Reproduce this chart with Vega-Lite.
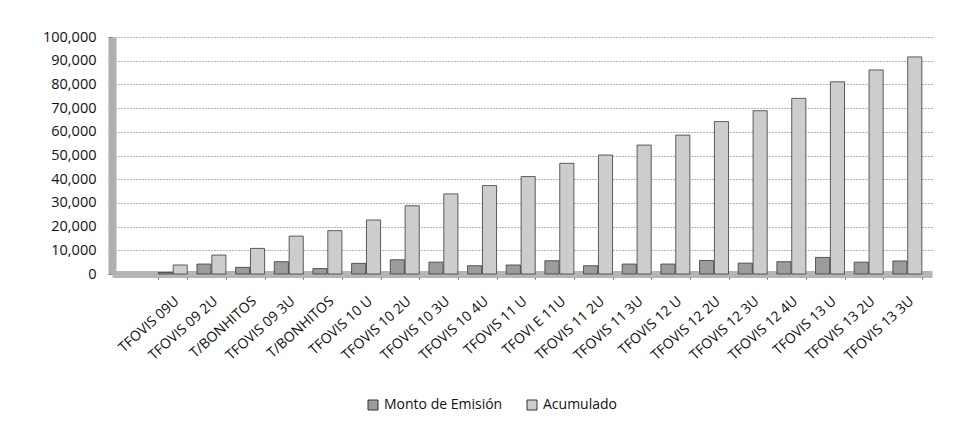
{
  "$schema": "https://vega.github.io/schema/vega-lite/v6.json",
  "autosize": "none",
  "width": 820,
  "height": 237,
  "padding": {"left": 112, "top": 37, "right": 34, "bottom": 154},
  "background": "white",
  "data": {
    "values": [
      {"cat": "TFOVIS 09U", "Monto de Emisión": 600, "Acumulado": 3800},
      {"cat": "TFOVIS 09 2U", "Monto de Emisión": 4200, "Acumulado": 8000},
      {"cat": "T/BONHITOS", "Monto de Emisión": 2800, "Acumulado": 10800},
      {"cat": "TFOVIS 09 3U", "Monto de Emisión": 5200, "Acumulado": 16000},
      {"cat": " T/BONHITOS", "Monto de Emisión": 2300, "Acumulado": 18300},
      {"cat": "TFOVIS  10 U", "Monto de Emisión": 4500, "Acumulado": 22800},
      {"cat": "TFOVIS 10 2U", "Monto de Emisión": 6000, "Acumulado": 28800},
      {"cat": "TFOVIS 10 3U", "Monto de Emisión": 5000, "Acumulado": 33800},
      {"cat": "TFOVIS 10 4U", "Monto de Emisión": 3500, "Acumulado": 37300},
      {"cat": "TFOVIS 11 U", "Monto de Emisión": 3800, "Acumulado": 41100},
      {"cat": "TFOVI E 11U", "Monto de Emisión": 5600, "Acumulado": 46700},
      {"cat": "TFOVIS  11 2U", "Monto de Emisión": 3500, "Acumulado": 50200},
      {"cat": "TFOVIS 11 3U", "Monto de Emisión": 4200, "Acumulado": 54400},
      {"cat": "TFOVIS 12 U", "Monto de Emisión": 4200, "Acumulado": 58600},
      {"cat": "TFOVIS 12 2U", "Monto de Emisión": 5700, "Acumulado": 64300},
      {"cat": "TFOVIS 12 3U", "Monto de Emisión": 4600, "Acumulado": 68900},
      {"cat": "TFOVIS 12 4U", "Monto de Emisión": 5200, "Acumulado": 74100},
      {"cat": "TFOVIS 13 U", "Monto de Emisión": 7000, "Acumulado": 81100},
      {"cat": "TFOVIS 13 2U", "Monto de Emisión": 5000, "Acumulado": 86100},
      {"cat": "TFOVIS 13 3U", "Monto de Emisión": 5500, "Acumulado": 91600}
    ]
  },
  "transform": [
    {"fold": ["Monto de Emisión", "Acumulado"], "as": ["serie", "valor"]}
  ],
  "mark": {"type": "bar", "stroke": "#3a3a3a", "strokeWidth": 0.8},
  "encoding": {
    "x": {
      "field": "cat",
      "type": "nominal",
      "sort": null,
      "scale": {"paddingInner": 0.25, "paddingOuter": 0.73, "align": 0.82},
      "axis": {
        "title": null,
        "labelAngle": -42,
        "labelAlign": "right",
        "labelBaseline": "middle",
        "labelPadding": 20,
        "labelOffset": 4,
        "labelFont": "Open Sans",
        "labelFontSize": 14,
        "labelColor": "#111",
        "tickBand": "extent",
        "tickSize": 5,
        "tickColor": "#555",
        "domainColor": "#b5b5b5",
        "domainWidth": 7,
        "grid": false
      }
    },
    "xOffset": {
      "field": "serie",
      "type": "nominal",
      "sort": ["Monto de Emisión", "Acumulado"],
      "scale": {"paddingInner": 0.05}
    },
    "y": {
      "field": "valor",
      "type": "quantitative",
      "scale": {"domain": [0, 100000], "nice": false},
      "axis": {
        "title": null,
        "values": [0, 10000, 20000, 30000, 40000, 50000, 60000, 70000, 80000, 90000, 100000],
        "format": ",d",
        "labelFont": "Open Sans",
        "labelFontSize": 14.5,
        "labelColor": "#111",
        "labelPadding": 12,
        "tickSize": 4,
        "tickColor": "#666",
        "domainColor": "#b0b0b0",
        "domainWidth": 8,
        "grid": true,
        "gridColor": "#666",
        "gridDash": [1, 2],
        "gridWidth": 1
      }
    },
    "color": {
      "field": "serie",
      "type": "nominal",
      "scale": {"domain": ["Monto de Emisión", "Acumulado"], "range": ["#9c9c9c", "#cdcdcd"]},
      "legend": {
        "orient": "none",
        "legendX": 254,
        "legendY": 361,
        "direction": "horizontal",
        "title": null,
        "symbolType": "square",
        "symbolSize": 100,
        "symbolStrokeColor": "#333",
        "symbolStrokeWidth": 1,
        "labelFont": "Open Sans",
        "labelFontSize": 14,
        "labelColor": "#111",
        "columnPadding": 22
      }
    }
  },
  "config": {"view": {"stroke": null}}
}
